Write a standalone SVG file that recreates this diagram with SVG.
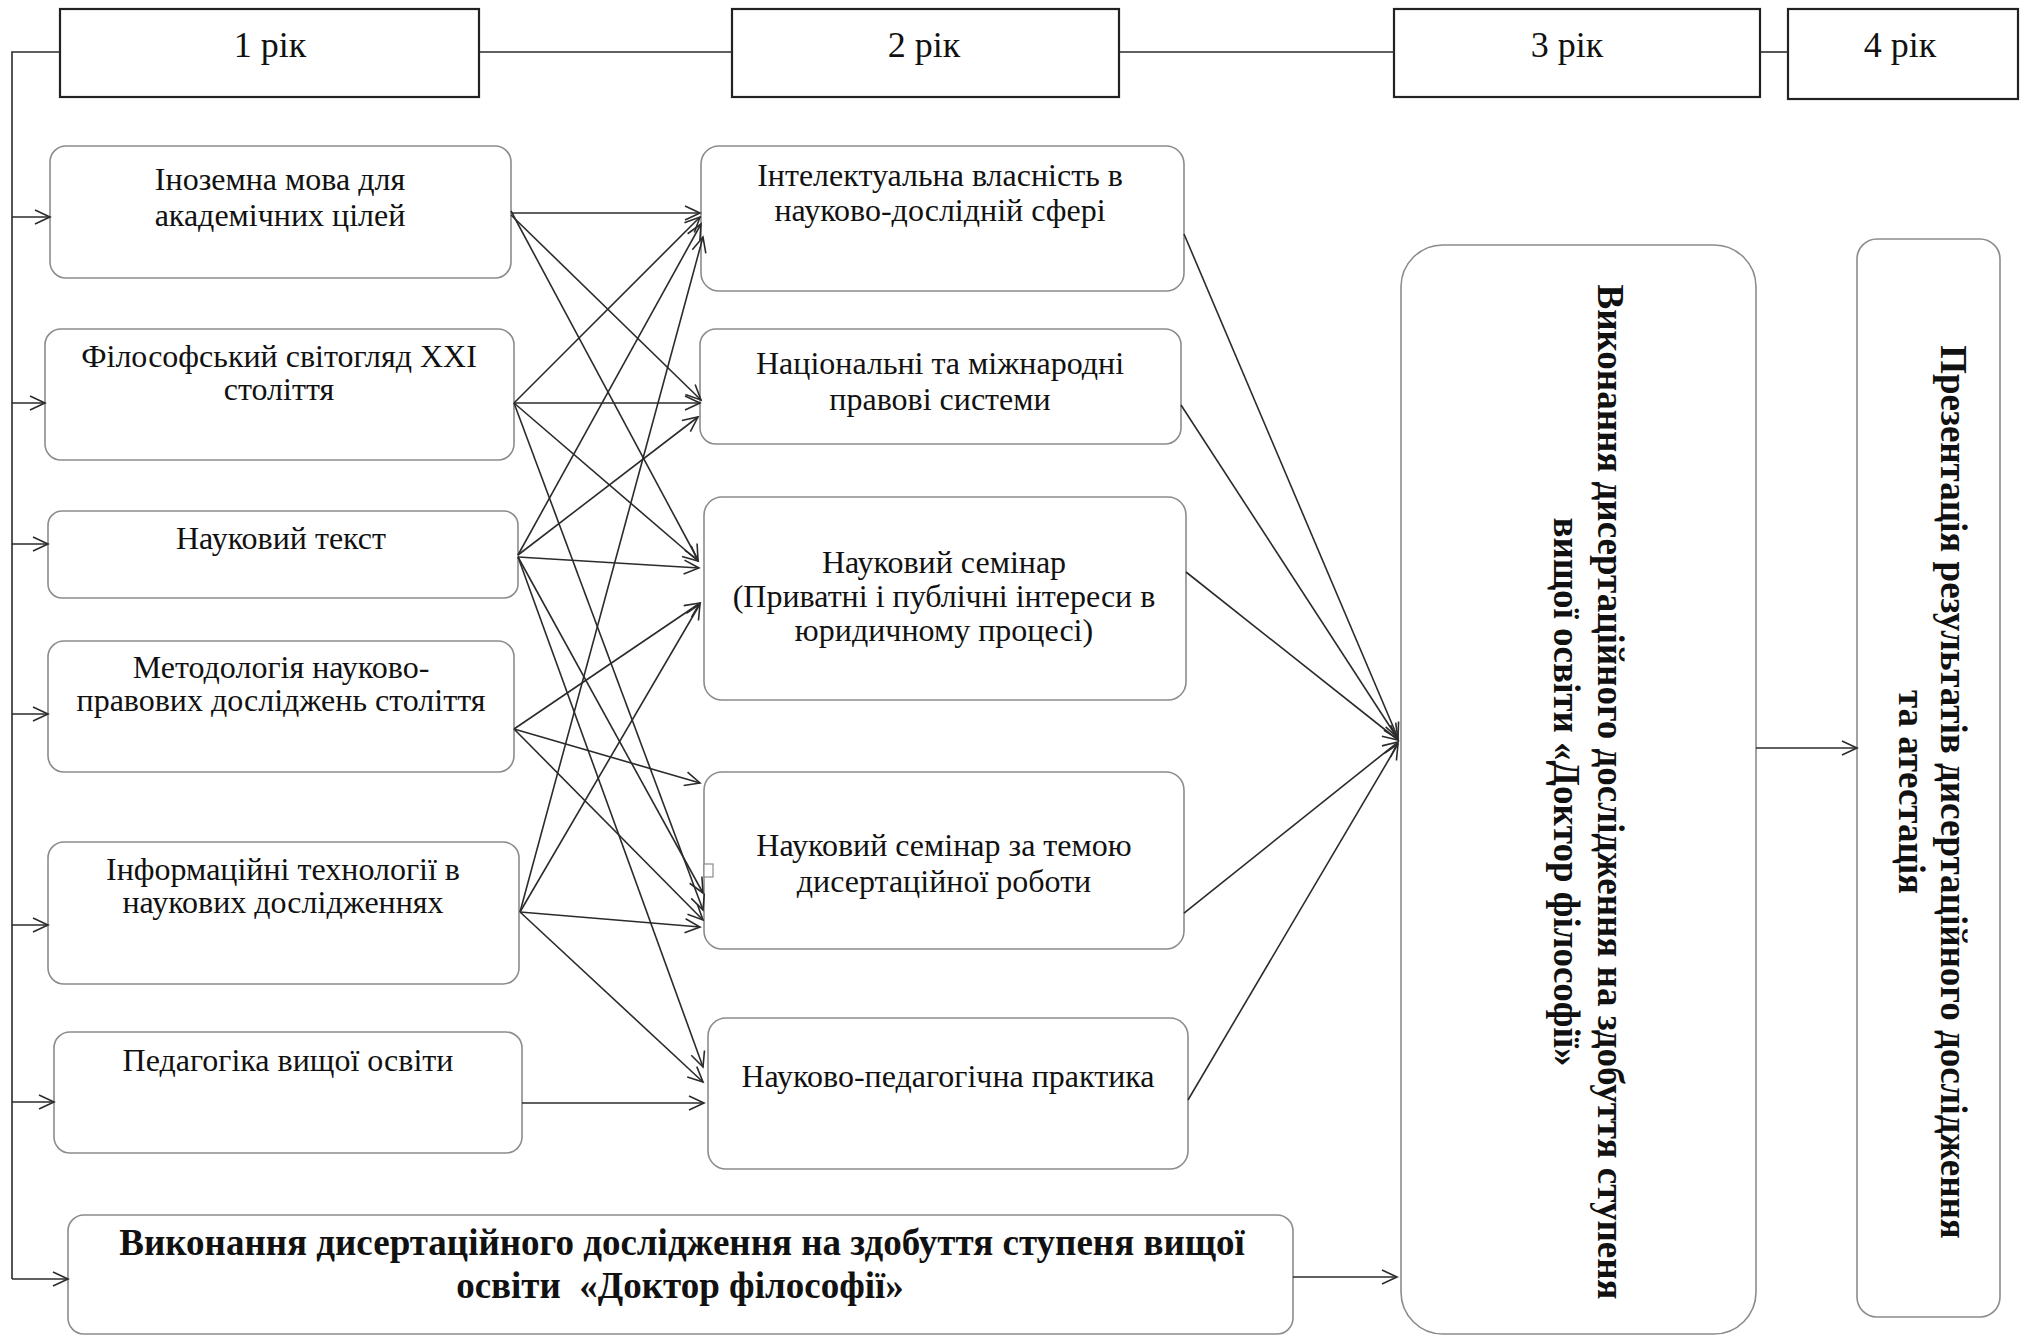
<svg xmlns="http://www.w3.org/2000/svg" width="2025" height="1337" viewBox="0 0 2025 1337">
<style>
.yr{fill:#fff;stroke:#222;stroke-width:2.2}
.bx{fill:#fff;stroke:#8c8c8c;stroke-width:1.6}
.ln{stroke:#2b2b2b;stroke-width:1.6;fill:none}
.ar{marker-end:url(#ah)}
.t{font-family:"Liberation Serif","Times New Roman",serif;font-size:32px;fill:#111;text-anchor:middle}
.y{font-size:36px}
.b{font-weight:bold;font-size:37px}
</style>
<defs>
<marker id="ah" markerUnits="userSpaceOnUse" markerWidth="20" markerHeight="20" viewBox="0 0 20 20" refX="16" refY="8" orient="auto">
<path d="M1,1 L16,8 L1,15" fill="none" stroke="#2b2b2b" stroke-width="1.6"/>
</marker>
</defs>
<rect width="2025" height="1337" fill="#fff"/>

<g id="year1"><rect class="yr" x="60" y="9" width="419" height="88"/><text class="t y" x="270" y="57">1 рік</text></g>
<g id="year2"><rect class="yr" x="732" y="9" width="387" height="88"/><text class="t y" x="924" y="57">2 рік</text></g>
<g id="year3"><rect class="yr" x="1394" y="9" width="366" height="88"/><text class="t y" x="1567" y="57">3 рік</text></g>
<g id="year4"><rect class="yr" x="1788" y="9" width="230" height="90"/><text class="t y" x="1900" y="57">4 рік</text></g>

<g id="l1"><rect class="bx" x="50" y="146" width="461" height="132" rx="16"/><text class="t" x="280" y="190">Іноземна мова для</text><text class="t" x="280" y="226">академічних цілей</text></g>
<g id="l2"><rect class="bx" x="45" y="329" width="469" height="131" rx="16"/><text class="t" x="279" y="367">Філософський світогляд XXI</text><text class="t" x="279" y="400">століття</text></g>
<g id="l3"><rect class="bx" x="48" y="511" width="470" height="87" rx="14"/><text class="t" x="281" y="549">Науковий текст</text></g>
<g id="l4"><rect class="bx" x="48" y="641" width="466" height="131" rx="16"/><text class="t" x="281" y="678">Методологія науково-</text><text class="t" x="281" y="711">правових досліджень століття</text></g>
<g id="l5"><rect class="bx" x="48" y="842" width="471" height="142" rx="16"/><text class="t" x="283" y="880">Інформаційні технології в</text><text class="t" x="283" y="913">наукових дослідженнях</text></g>
<g id="l6"><rect class="bx" x="54" y="1032" width="468" height="121" rx="16"/><text class="t" x="288" y="1071">Педагогіка вищої освіти</text></g>
<g id="l7"><rect class="bx" x="68" y="1215" width="1225" height="119" rx="16"/><text class="t b" x="682" y="1255">Виконання дисертаційного дослідження на здобуття ступеня вищої</text><text class="t b" x="680" y="1298">освіти&#160; «Доктор філософії»</text></g>

<g id="m1"><rect class="bx" x="701" y="146" width="483" height="145" rx="18"/><text class="t" x="940" y="186">Інтелектуальна власність в</text><text class="t" x="940" y="221">науково-дослідній сфері</text></g>
<g id="m2"><rect class="bx" x="700" y="329" width="481" height="115" rx="16"/><text class="t" x="940" y="374">Національні та міжнародні</text><text class="t" x="940" y="410">правові системи</text></g>
<g id="m3"><rect class="bx" x="704" y="497" width="482" height="203" rx="18"/><text class="t" x="944" y="573">Науковий семінар</text><text class="t" x="944" y="607">(Приватні і публічні інтереси в</text><text class="t" x="944" y="641">юридичному процесі)</text></g>
<g id="m4"><rect class="bx" x="704" y="772" width="480" height="177" rx="18"/><text class="t" x="944" y="856">Науковий семінар за темою</text><text class="t" x="944" y="892">дисертаційної роботи</text><rect x="704" y="864" width="9" height="13" fill="#fff" stroke="#8c8c8c" stroke-width="1.2"/></g>
<g id="m5"><rect class="bx" x="708" y="1018" width="480" height="151" rx="18"/><text class="t" x="948" y="1087">Науково-педагогічна практика</text></g>

<g id="r3"><rect class="bx" x="1401" y="245" width="355" height="1089" rx="42"/>
<text class="t b" transform="translate(1598,792) rotate(90)">Виконання дисертаційного дослідження на здобуття ступеня</text>
<text class="t b" transform="translate(1554,792) rotate(90)">вищої освіти «Доктор філософії»</text></g>
<g id="r4"><rect class="bx" x="1857" y="239" width="143" height="1078" rx="20"/>
<text class="t b" transform="translate(1941,792) rotate(90)">Презентація результатів дисертаційного дослідження</text>
<text class="t b" transform="translate(1899,792) rotate(90)">та атестація</text></g>

<g id="connectors">
<polyline class="ln" points="60,52 12,52 12,1279"/>
<line class="ln" x1="479" y1="52" x2="732" y2="52"/>
<line class="ln" x1="1119" y1="52" x2="1394" y2="52"/>
<line class="ln" x1="1760" y1="52" x2="1788" y2="52"/>
<line class="ln ar" x1="12" y1="217" x2="50" y2="217"/>
<line class="ln ar" x1="12" y1="403" x2="45" y2="403"/>
<line class="ln ar" x1="12" y1="544" x2="48" y2="544"/>
<line class="ln ar" x1="12" y1="714" x2="48" y2="714"/>
<line class="ln ar" x1="12" y1="925" x2="48" y2="925"/>
<line class="ln ar" x1="12" y1="1102" x2="54" y2="1102"/>
<line class="ln ar" x1="12" y1="1279" x2="68" y2="1279"/>

<line class="ln ar" x1="511" y1="213" x2="700" y2="213"/>
<line class="ln ar" x1="511" y1="215" x2="701" y2="400"/>
<line class="ln ar" x1="511" y1="211" x2="698" y2="560"/>
<line class="ln ar" x1="514" y1="403" x2="700" y2="217"/>
<line class="ln ar" x1="514" y1="403" x2="700" y2="403"/>
<line class="ln ar" x1="514" y1="403" x2="698" y2="561"/>
<line class="ln ar" x1="514" y1="403" x2="703" y2="910"/>
<line class="ln ar" x1="518" y1="555" x2="701" y2="224"/>
<line class="ln ar" x1="518" y1="555" x2="698" y2="417"/>
<line class="ln ar" x1="518" y1="557" x2="699" y2="568"/>
<line class="ln ar" x1="518" y1="557" x2="703" y2="893"/>
<line class="ln ar" x1="518" y1="557" x2="703" y2="1067"/>
<line class="ln ar" x1="514" y1="729" x2="700" y2="603"/>
<line class="ln ar" x1="514" y1="729" x2="700" y2="783"/>
<line class="ln ar" x1="514" y1="729" x2="703" y2="920"/>
<line class="ln ar" x1="520" y1="912" x2="703" y2="237"/>
<line class="ln ar" x1="520" y1="912" x2="700" y2="604"/>
<line class="ln ar" x1="520" y1="912" x2="700" y2="927"/>
<line class="ln ar" x1="520" y1="912" x2="703" y2="1082"/>
<line class="ln ar" x1="522" y1="1103" x2="704" y2="1103"/>

<line class="ln ar" x1="1184" y1="234" x2="1398" y2="738"/>
<line class="ln ar" x1="1181" y1="405" x2="1398" y2="739"/>
<line class="ln ar" x1="1186" y1="572" x2="1398" y2="740"/>
<line class="ln ar" x1="1184" y1="913" x2="1398" y2="742"/>
<line class="ln ar" x1="1188" y1="1100" x2="1398" y2="744"/>
<line class="ln ar" x1="1293" y1="1277" x2="1397" y2="1277"/>
<line class="ln ar" x1="1756" y1="748" x2="1857" y2="748"/>
</g>
</svg>
